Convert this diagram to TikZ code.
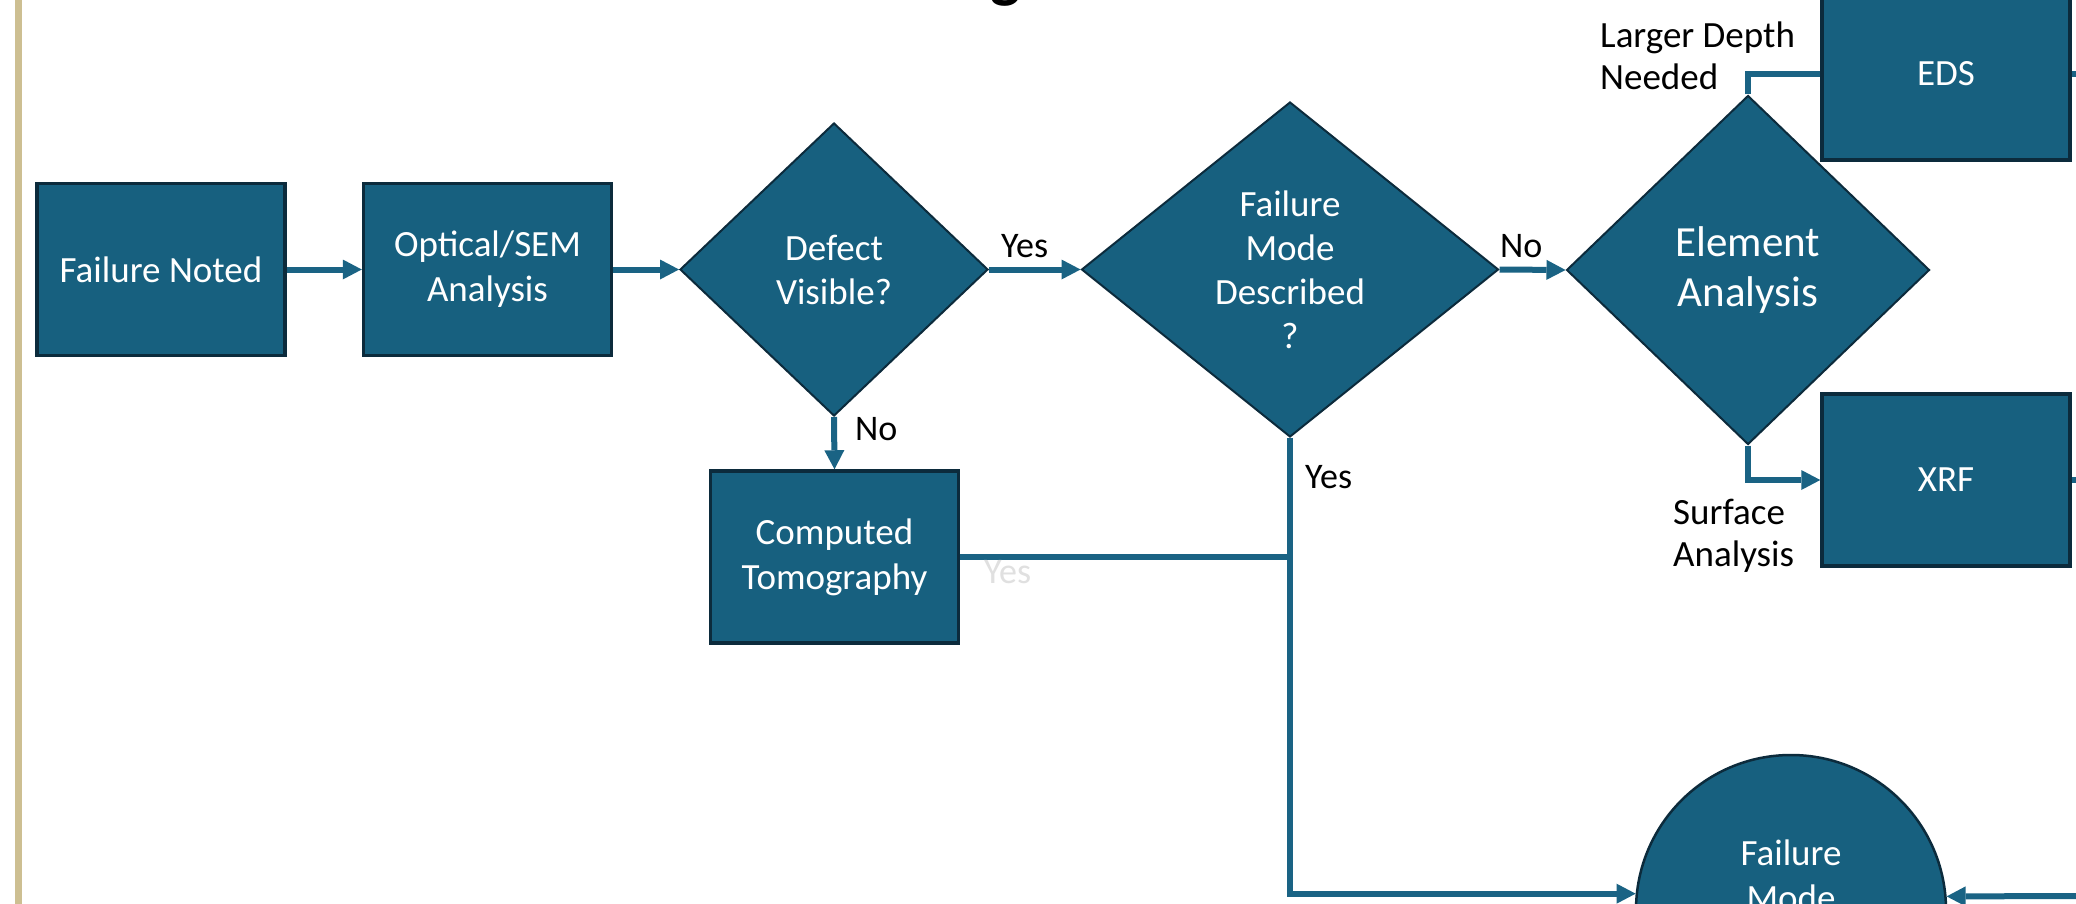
\documentclass[tikz,border=0pt]{standalone}
\usepackage{fontspec}
\setmainfont{Carlito}
\usetikzlibrary{arrows.meta,shapes.geometric}
\definecolor{boxfill}{HTML}{17607F}
\definecolor{boxline}{HTML}{0C2B3C}
\definecolor{linecol}{HTML}{1A6384}
\definecolor{goldbar}{HTML}{CDBF92}
\begin{document}
\begin{tikzpicture}[x=1pt,y=-1pt,
  procbox/.style={rectangle, draw=boxline, line width=3.5pt, fill=boxfill,
    minimum width=248pt, minimum height=172pt, inner sep=0pt, text=white,
    align=center, font=\fontsize{37}{45}\selectfont},
  decision/.style={diamond, draw=boxline, line width=2pt, fill=boxfill,
    inner sep=0pt, text=white, align=center, font=\fontsize{37}{44}\selectfont},
  endcirc/.style={circle, draw=boxline, line width=2.5pt, fill=boxfill,
    minimum size=310pt, inner sep=0pt},
  intext/.style={inner sep=0pt, text=white, align=center, font=\fontsize{37}{45}\selectfont},
  lbl/.style={inner sep=0pt, text=black, font=\fontsize{36}{42}\selectfont},
  sidelbl/.style={inner sep=0pt, text=black, align=left, font=\fontsize{37}{42}\selectfont},
  conn/.style={draw=linecol, line width=6pt},
  arr/.style={conn, -{Triangle[length=19pt,width=20pt,line width=0pt]}},
]
\useasboundingbox (0,0) rectangle (2076,904);
\clip (0,0) rectangle (2076,904);
\fill[white] (0,0) rectangle (2076,904);
\fill[goldbar] (15,-5) rectangle (22,910);

% title (cut off at top)
\node[anchor=base, inner sep=0pt, font=\fontsize{64}{64}\selectfont\bfseries] (ttl) at (1006,-4) {g};

% nodes
\node[procbox] (fn) at (161,269.5) {Failure Noted};
\node[procbox] (opt) at (487.5,269.5) {Optical/SEM\\Analysis};
\node[decision, minimum width=308pt, minimum height=293pt] (dv) at (834,269.5) {Defect\\Visible?};
\node[decision, minimum width=417pt, minimum height=335pt] (fmd) at (1290,269.5) {Failure\\Mode\\Described\\?};
\node[decision, minimum width=363pt, minimum height=349pt, font=\fontsize{43}{50}\selectfont] (ea) at (1748,270) {Element\\Analysis};
\node[procbox] (ct) at (834.5,557) {Computed\\Tomography};
\node[procbox] (eds) at (1946,74) {EDS};
\node[procbox] (xrf) at (1946,480) {XRF};
\node[endcirc] (fm) at (1791,910) {};
\node[intext, anchor=north] (fmt) at (1791,840) {Failure\\Mode};

% free ends off the picture
\coordinate (edsout) at (2100,74);
\coordinate (xrfout) at (2100,480);
\coordinate (rin) at (2100,896);

% connectors
\draw[arr] (fn.east) -- (opt.west);
\draw[arr] (opt.east) -- (dv.west);
\draw[arr] (dv.east) -- (fmd.west);
\draw[arr] (fmd.east) -- (ea.west);
\draw[arr] (dv.south) -- (ct.north);
\draw[arr] (fmd.south) |- (fm.174.8);
\draw[conn] (ct.east) -- (ct.east -| fmd.south);
\draw[conn] (ea.north) |- (eds.west);
\draw[arr] (ea.south) |- (xrf.west);
\draw[conn] (eds.east) -- (edsout);
\draw[conn] (xrf.east) -- (xrfout);
\draw[arr] (rin) -- (fm.5.2);

% labels
\node[lbl, anchor=base west] (yes1) at (1001,257) {Yes};
\node[lbl, anchor=base west] (no1) at (1500,257) {No};
\node[lbl, anchor=base west] (no2) at (855,440) {No};
\node[lbl, anchor=base west] (yes2) at (1305,488) {Yes};
\node[lbl, anchor=base west, text=black!12] (yes3) at (984,583) {Yes};
\node[sidelbl, anchor=north west] (deep) at (1600,22) {Larger Depth\\Needed};
\node[sidelbl, anchor=north west] (surf) at (1673,499) {Surface\\Analysis};
\end{tikzpicture}
\end{document}
